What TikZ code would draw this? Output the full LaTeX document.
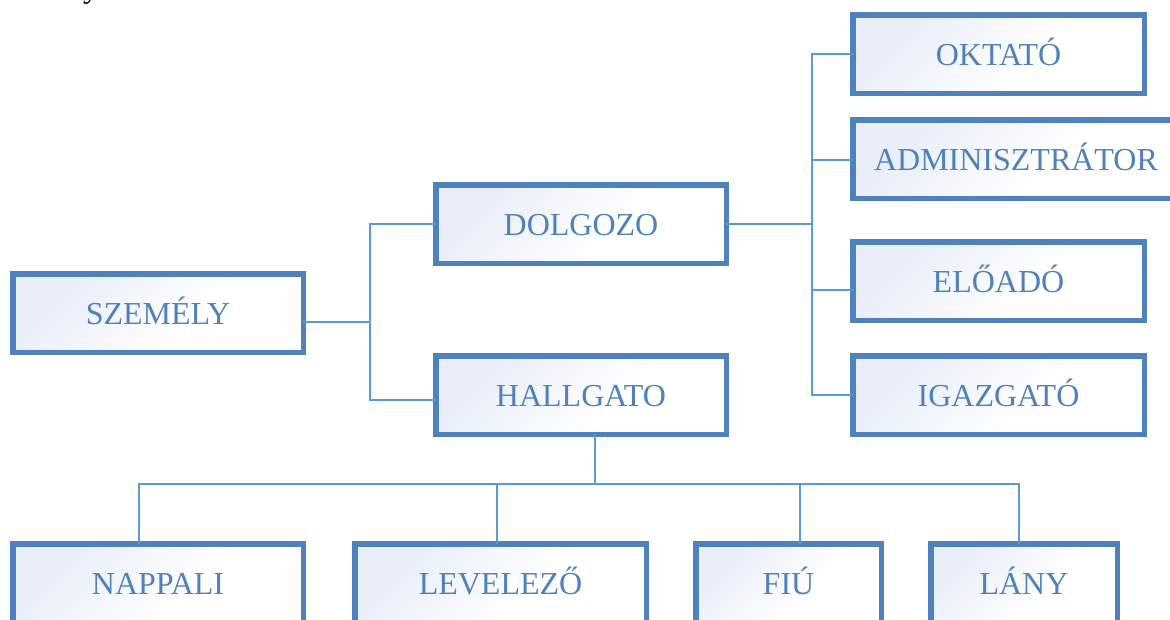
\documentclass[tikz,border=0pt]{standalone}
\usepackage{fontspec}
\setmainfont{Liberation Serif}
\usetikzlibrary{calc}
\definecolor{boxline}{RGB}{79,129,189}
\definecolor{linkline}{RGB}{91,155,213}
\definecolor{boxtint}{RGB}{233,238,249}
\pgfdeclarehorizontalshading{boxshade}{100bp}{color(0bp)=(boxtint); color(28bp)=(boxtint); color(58bp)=(white); color(100bp)=(white)}
\begin{document}
\begin{tikzpicture}[x=1pt,y=-1pt,
  unitbox/.style={draw=boxline, line width=5.5pt, shade, shading=boxshade, shading angle=-45,
    text=boxline, font=\fontsize{32}{36}\selectfont, minimum height=78.5pt,
    text height=24pt, text depth=2pt, inner sep=0pt, outer sep=0pt},
  link/.style={draw=linkline, line width=2pt}]
\useasboundingbox (0,0) rectangle (1170,619);
\clip (0,0) rectangle (1170,619);

% tail of a letter from the line above
\node[anchor=base west, inner sep=0pt, font=\fontsize{32}{36}\selectfont] (tail) at (83,-3) {y};

% boxes
\node[unitbox, minimum width=290.5pt] (szemely)  at (158,313)    {SZEMÉLY};
\node[unitbox, minimum width=290.5pt] (dolgozo)  at (581,224)    {DOLGOZO};
\node[unitbox, minimum width=290.5pt] (hallgato) at (581,395)    {HALLGATO};
\node[unitbox, minimum width=291.5pt] (oktato)   at (998.5,54)   {OKTATÓ};
\node[unitbox, minimum width=326.5pt] (admin)    at (1016,159)   {ADMINISZTRÁTOR};
\node[unitbox, minimum width=291.5pt] (eloado)   at (998.5,281)  {ELŐADÓ};
\node[unitbox, minimum width=291.5pt] (igazgato) at (998.5,395)  {IGAZGATÓ};
\node[unitbox, minimum width=290.5pt] (nappali)  at (158,583)    {NAPPALI};
\node[unitbox, minimum width=291.5pt] (levelezo) at (500.5,583)  {LEVELEZŐ};
\node[unitbox, minimum width=185.5pt] (fiu)      at (788.5,583)  {FIÚ};
\node[unitbox, minimum width=186.5pt] (lany)     at (1024,583)   {LÁNY};

% junctions
\coordinate (j1) at (370,322);
\coordinate (j2) at (812,224);
\coordinate (j3) at (595,484);

% SZEMÉLY -> DOLGOZO, HALLGATO
\draw[link] (szemely.east |- j1) -- (j1);
\draw[link] (j1) |- (dolgozo.west);
\draw[link] (j1) |- ($(hallgato.west)+(0,5)$);

% DOLGOZO -> staff roles
\draw[link] (dolgozo.east) -- (j2);
\draw[link] (j2) |- (oktato.west);
\draw[link] (j2) |- ($(admin.west)+(0,1)$);
\draw[link] (j2) |- ($(eloado.west)+(0,9)$);
\draw[link] (j2) |- (igazgato.west);

% HALLGATO -> student groups
\draw[link] (hallgato.south -| j3) -- (j3);
\draw[link] (j3) -| ($(nappali.north)+(-19,0)$);
\draw[link] (j3) -| ($(levelezo.north)+(-3.5,0)$);
\draw[link] (j3) -| ($(fiu.north)+(11.5,0)$);
\draw[link] (j3) -| ($(lany.north)+(-5,0)$);
\end{tikzpicture}
\end{document}
